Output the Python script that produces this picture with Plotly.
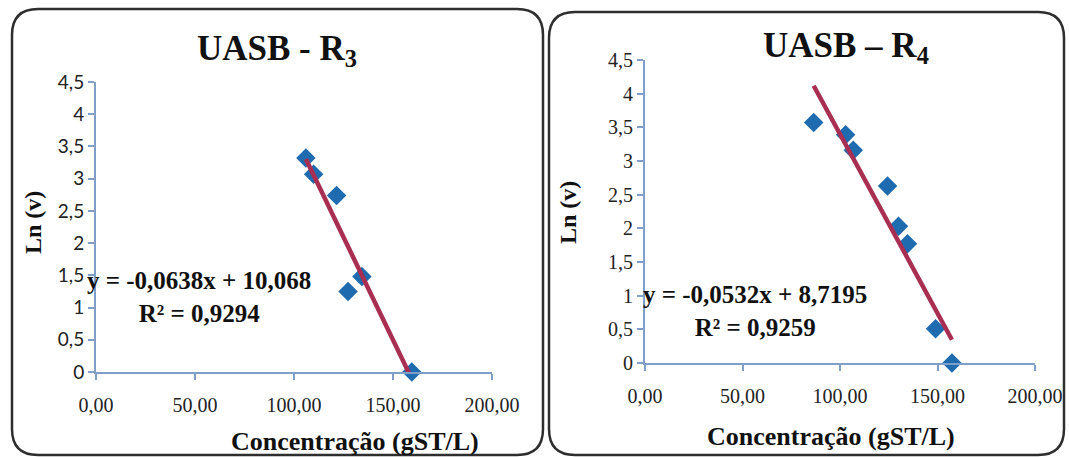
import plotly.graph_objects as go

# ---------------- data ----------------
r3_conc = [106.0, 109.9, 121.5, 127.3, 134.3, 159.5]
r3_lnv = [3.32, 3.07, 2.74, 1.25, 1.48, 0.0]
r3_slope, r3_intercept, r3_r2 = -0.0638, 10.068, 0.9294

r4_conc = [86.5, 102.9, 106.8, 124.4, 130.0, 134.6, 149.0, 157.4]
r4_lnv = [3.57, 3.39, 3.16, 2.63, 2.03, 1.77, 0.51, 0.0]
r4_slope, r4_intercept, r4_r2 = -0.0532, 8.7195, 0.9259

x_tickvals = [0, 50, 100, 150, 200]
x_ticktext = ["0,00", "50,00", "100,00", "150,00", "200,00"]
y_tickvals = [0, 0.5, 1, 1.5, 2, 2.5, 3, 3.5, 4, 4.5]
y_ticktext = ["0", "0,5", "1", "1,5", "2", "2,5", "3", "3,5", "4", "4,5"]

titles = ["UASB - R<sub>3</sub>", "UASB – R<sub>4</sub>"]
eq_texts = ["y = -0,0638x + 10,068<br>R² = 0,9294",
            "y = -0,0532x + 8,7195<br>R² = 0,9259"]
x_title = "Concentração (gST/L)"
y_title = "Ln (v)"

# ---------------- styling ----------------
W, H = 1069, 457
SERIF = "Liberation Serif"
SANS = "Lato"
MARKER_COLOR = "#1e6bb0"
LINE_COLOR = "#a92f52"
AXIS_COLOR = "#7f9fc8"
TICK_COLOR = "#222222"


def px(x):
    return x / W


def py(y):
    return 1 - y / H


fig = go.Figure()

for i, (xs, ys, m, b) in enumerate([(r3_conc, r3_lnv, r3_slope, r3_intercept),
                                    (r4_conc, r4_lnv, r4_slope, r4_intercept)]):
    xa = "x" if i == 0 else "x2"
    ya = "y" if i == 0 else "y2"
    xl = [min(xs), max(xs)]
    yl = [m * v + b for v in xl]
    fig.add_trace(go.Scatter(x=xs, y=ys, mode="markers",
                             marker=dict(symbol="diamond", size=15, color=MARKER_COLOR),
                             xaxis=xa, yaxis=ya, showlegend=False, cliponaxis=False))
    fig.add_trace(go.Scatter(x=xl, y=yl, mode="lines",
                             line=dict(color=LINE_COLOR, width=4.5),
                             xaxis=xa, yaxis=ya, showlegend=False, cliponaxis=False))


def xaxis_cfg(dom, anchor):
    return dict(
        domain=dom, anchor=anchor, range=[0, 200], tickmode="array",
        tickvals=x_tickvals, ticktext=x_ticktext, ticklabelstandoff=8,
        showline=True, linecolor=AXIS_COLOR, linewidth=2,
        ticks="outside", ticklen=6, tickcolor=AXIS_COLOR, tickwidth=2,
        showgrid=False, zeroline=False,
        tickfont=dict(family=SERIF, size=20, color=TICK_COLOR))


def yaxis_cfg(dom, anchor, fam, size):
    return dict(
        domain=dom, anchor=anchor, range=[0, 4.5], tickmode="array",
        tickvals=y_tickvals, ticktext=y_ticktext,
        showline=True, linecolor=AXIS_COLOR, linewidth=2,
        ticks="outside", ticklen=6, tickcolor=AXIS_COLOR, tickwidth=2,
        showgrid=False, zeroline=False,
        tickfont=dict(family=fam, size=size, color=TICK_COLOR))


fig.update_layout(
    template="none",
    width=W, height=H, margin=dict(l=0, r=0, t=0, b=0, autoexpand=False),
    paper_bgcolor="white", plot_bgcolor="white",
    font=dict(family=SERIF, size=19, color=TICK_COLOR),
    xaxis=xaxis_cfg([px(96), px(492)], "y"),
    yaxis=yaxis_cfg([py(372), py(82)], "x", SANS, 19),
    xaxis2=xaxis_cfg([px(645), px(1035)], "y2"),
    yaxis2=yaxis_cfg([py(363), py(60)], "x2", SERIF, 20),
)

ann = []
for t, (xc, yc) in zip(titles, [(277, 50), (846, 48)]):
    ann.append(dict(text="<b>" + t + "</b>", x=px(xc), y=py(yc),
                    xref="paper", yref="paper", xanchor="center", yanchor="middle",
                    showarrow=False, font=dict(family=SERIF, size=35, color="#111111")))
for xc, yc in [(355, 441), (831, 436)]:
    ann.append(dict(text="<b>" + x_title + "</b>", x=px(xc), y=py(yc),
                    xref="paper", yref="paper", xanchor="center", yanchor="middle",
                    showarrow=False, font=dict(family=SERIF, size=26, color="#111111")))
for xc, yc in [(33, 223), (568, 213)]:
    ann.append(dict(text="<b>" + y_title + "</b>", x=px(xc), y=py(yc), textangle=-90,
                    xref="paper", yref="paper", xanchor="center", yanchor="middle",
                    showarrow=False, font=dict(family=SERIF, size=24, color="#111111")))
for (xc, yc), t in zip([(199, 297), (755, 311)], eq_texts):
    ann.append(dict(text="<b>" + t + "</b>", x=px(xc), y=py(yc), align="center",
                    xref="paper", yref="paper", xanchor="center", yanchor="middle",
                    showarrow=False, font=dict(family=SERIF, size=25, color="#111111")))
fig.update_layout(annotations=ann)


def rounded_rect(x0, y0, x1, y1, r):
    pts = [
        f"M {px(x0 + r)} {py(y0)}",
        f"L {px(x1 - r)} {py(y0)}",
        f"Q {px(x1)} {py(y0)} {px(x1)} {py(y0 + r)}",
        f"L {px(x1)} {py(y1 - r)}",
        f"Q {px(x1)} {py(y1)} {px(x1 - r)} {py(y1)}",
        f"L {px(x0 + r)} {py(y1)}",
        f"Q {px(x0)} {py(y1)} {px(x0)} {py(y1 - r)}",
        f"L {px(x0)} {py(y0 + r)}",
        f"Q {px(x0)} {py(y0)} {px(x0 + r)} {py(y0)}",
        "Z",
    ]
    return " ".join(pts)


fig.update_layout(shapes=[
    dict(type="path", path=rounded_rect(12, 9, 543, 455, 26), xref="paper", yref="paper",
         line=dict(color="#2e2e2e", width=2.5), layer="below"),
    dict(type="path", path=rounded_rect(549, 12, 1064, 455, 26), xref="paper", yref="paper",
         line=dict(color="#2e2e2e", width=2.5), layer="below"),
])

fig.write_html("out.html")
